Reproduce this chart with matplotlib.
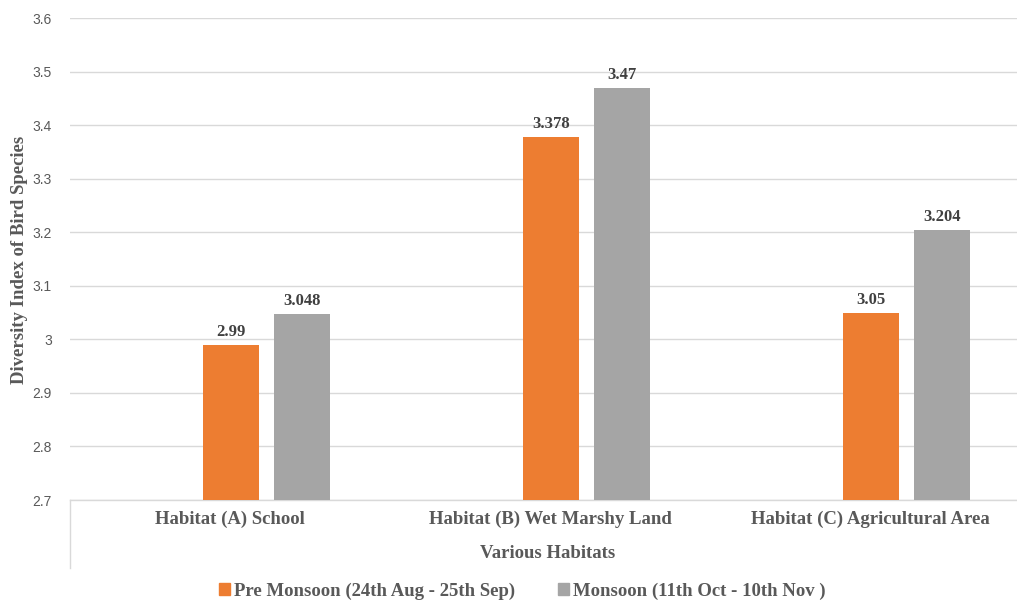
import matplotlib
matplotlib.use("Agg")
import matplotlib.pyplot as plt
from matplotlib.patches import Patch
from matplotlib.lines import Line2D
import numpy as np

habitats = ["Habitat (A) School", "Habitat (B) Wet Marshy Land", "Habitat (C) Agricultural Area"]
pre_monsoon = [2.99, 3.378, 3.05]
monsoon = [3.048, 3.47, 3.204]
pre_labels = ["2.99", "3.378", "3.05"]
mon_labels = ["3.048", "3.47", "3.204"]
series_names = ["Pre Monsoon (24th Aug - 25th Sep)", "Monsoon (11th Oct - 10th Nov )"]
y_ticks = [2.7, 2.8, 2.9, 3.0, 3.1, 3.2, 3.3, 3.4, 3.5, 3.6]
y_tick_labels = ["2.7", "2.8", "2.9", "3", "3.1", "3.2", "3.3", "3.4", "3.5", "3.6"]

ORANGE = "#ED7D31"
GRAY = "#A5A5A5"
TEXT = "#595959"
GRID = "#D9D9D9"
SERIF = ["Liberation Serif", "DejaVu Serif"]
SANS = ["Liberation Sans", "DejaVu Sans"]

W, H = 1017, 601
fig = plt.figure(figsize=(W / 100, H / 100), dpi=100)
left, right, bottom, top = 70 / W, 1030 / W, (H - 500) / H, (H - 18) / H
ax = fig.add_axes([left, bottom, right - left, top - bottom])
ax.set_clip_on(True)

x = np.arange(len(habitats))
bw = 0.175
b1 = ax.bar(x + 0.003, np.array(pre_monsoon) - 2.7, bw, bottom=2.7, color=ORANGE, zorder=3)
b2 = ax.bar(x + 0.225, np.array(monsoon) - 2.7, bw, bottom=2.7, color=GRAY, zorder=3)

for bars, labels in ((b1, pre_labels), (b2, mon_labels)):
    for bar, lab in zip(bars, labels):
        ax.annotate(lab, (bar.get_x() + bar.get_width() / 2, bar.get_y() + bar.get_height()),
                    xytext=(0, 5), textcoords="offset pixels", ha="center", va="bottom",
                    fontsize=12, fontweight="bold", family=SERIF, color="#404040")

ax.set_xlim(-0.5, 2.5)
ax.set_ylim(2.7, 3.6)
ax.set_yticks(y_ticks)
ax.set_yticklabels(y_tick_labels, family=SANS, fontsize=10, color=TEXT)
ax.set_xticks(x)
ax.set_xticklabels(habitats, family=SERIF, fontsize=13.5, fontweight="bold", color=TEXT)
ax.tick_params(axis="y", length=0, pad=13)
ax.tick_params(axis="x", length=0, pad=8)
ax.grid(axis="y", color=GRID, linewidth=1, zorder=0)
for s in ("top", "right", "left"):
    ax.spines[s].set_visible(False)
ax.spines["bottom"].set_color(GRID)
ax.spines["bottom"].set_linewidth(1)

# left boundary line of the category axis, running below the plot
fig.add_artist(Line2D([left, left], [(H - 568) / H, bottom], transform=fig.transFigure,
                      color=GRID, linewidth=1))

fig.text(20 / W, 1 - 260 / H, "Diversity Index of Bird Species", rotation=90,
         ha="center", va="center", family=SERIF, fontsize=13.5, fontweight="bold", color=TEXT)
fig.text(548 / W, 1 - 553 / H, "Various Habitats", ha="center", va="center",
         family=SERIF, fontsize=13.5, fontweight="bold", color=TEXT)

handles = [Patch(color=ORANGE), Patch(color=GRAY)]
fig.legend(handles, series_names, loc="center", bbox_to_anchor=(522 / W, 1 - 591 / H),
           ncol=2, frameon=False, handlelength=0.6, handleheight=0.6, handletextpad=0.2,
           columnspacing=2.3, borderaxespad=0, borderpad=0,
           prop={"family": SERIF, "size": 13.5, "weight": "bold"}, labelcolor=TEXT)

fig.savefig("out.png", dpi=100)
